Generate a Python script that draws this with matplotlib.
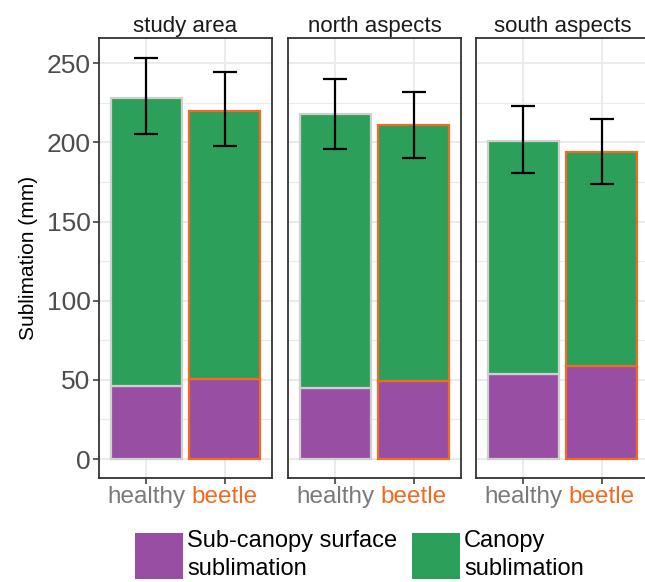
import numpy as np
import matplotlib
matplotlib.use("Agg")
import matplotlib.pyplot as plt
from matplotlib.patches import Patch

plt.rcParams['font.family'] = ['Liberation Sans', 'DejaVu Sans']

panels = ['study area', 'north aspects', 'south aspects']
stands = ['healthy', 'beetle']
sub_canopy = [[46, 50.5], [45, 49], [54, 58.5]]
total = [[228, 220], [218, 211], [201, 194]]
err_hi = [[253.5, 244.5], [240, 232], [223, 215]]
err_lo = [[205.5, 198], [196, 190], [180.5, 173.5]]

purple = '#984EA3'
green = '#2CA05A'
edge_cols = ['#CFCFCF', '#F26B22']
label_cols = ['#7A7A7A', '#F26B22']

fig = plt.figure(figsize=(6.45, 5.82), dpi=100)
lefts = [99, 288, 476]
x = np.arange(1, 3)

for i, name in enumerate(panels):
    ax = fig.add_axes([lefts[i] / 645, 1 - 478 / 582, 173 / 645, 440 / 582])
    sub = np.array(sub_canopy[i])
    can = np.array(total[i]) - sub
    ax.bar(x, sub, width=0.9, color=purple, edgecolor=edge_cols, linewidth=1.6, zorder=3)
    ax.bar(x, can, bottom=sub, width=0.9, color=green, edgecolor=edge_cols, linewidth=1.6, zorder=3)
    mid = (np.array(err_hi[i]) + np.array(err_lo[i])) / 2
    half = (np.array(err_hi[i]) - np.array(err_lo[i])) / 2
    ax.errorbar(x, mid, yerr=half, fmt='none', ecolor='black', elinewidth=1.6,
                capsize=8.5, capthick=1.6, zorder=4)
    ax.set_xlim(0.4, 2.6)
    ax.set_ylim(-12, 266)
    ax.set_yticks(np.arange(0, 251, 50))
    ax.set_yticks(np.arange(25, 251, 50), minor=True)
    ax.set_xticks(x)
    ax.set_xticklabels(stands, fontsize=17.5)
    for lab, c in zip(ax.get_xticklabels(), label_cols):
        lab.set_color(c)
    ax.grid(which='major', color='#EBEBEB', linewidth=1.5, zorder=0)
    ax.grid(which='minor', axis='y', color='#EBEBEB', linewidth=0.8, zorder=0)
    ax.set_axisbelow(True)
    ax.tick_params(which='major', length=4, width=1.1, color='#333333', pad=2)
    ax.tick_params(which='minor', length=0)
    for tl, c in zip(ax.get_xticklines()[::2], label_cols):
        tl.set_color('#333333' if c == label_cols[0] else c)
    for s in ax.spines.values():
        s.set_color('#333333')
        s.set_linewidth(1.3)
    ax.set_title(name, fontsize=16, color='#1A1A1A', pad=4)
    if i == 0:
        ax.tick_params(axis='y', labelsize=19, labelcolor='#4D4D4D')
        ax.set_ylabel('Sublimation (mm)', fontsize=15, color='black', labelpad=6)
    else:
        ax.tick_params(axis='y', left=False, labelleft=False)

handles = [Patch(facecolor=purple, edgecolor='none'), Patch(facecolor=green, edgecolor='none')]
leg = fig.legend(handles, ['Sub-canopy surface\nsublimation', 'Canopy\nsublimation'],
                 loc='upper left', bbox_to_anchor=(135 / 645, 1 - 530 / 582), ncol=2,
                 frameon=False, fontsize=17, handlelength=2.05, handleheight=2.6,
                 handletextpad=0.17, columnspacing=0.6, borderpad=0, borderaxespad=0)
for t in leg.get_texts():
    t.set_linespacing(1.35)

fig.savefig('out.png', dpi=100)
